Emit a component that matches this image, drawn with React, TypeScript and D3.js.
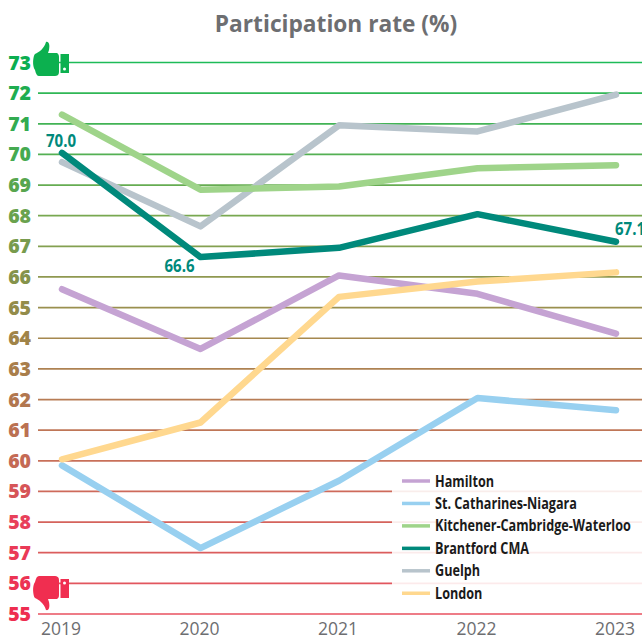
import React from "react";
import * as d3 from "d3";

const years = [2019, 2020, 2021, 2022, 2023];
const hamilton = [65.6, 63.65, 66.05, 65.45, 64.15];
const stCatharines = [59.85, 57.15, 59.35, 62.05, 61.65];
const kitchener = [71.3, 68.85, 68.95, 69.55, 69.65];
const brantford = [70.05, 66.65, 66.95, 68.05, 67.15];
const guelph = [69.75, 67.65, 70.95, 70.75, 71.95];
const london = [60.05, 61.25, 65.35, 65.85, 66.15];
const yTicks = d3.range(55, 74);
const seriesNames = ["Hamilton", "St. Catharines-Niagara", "Kitchener-Cambridge-Waterloo", "Brantford CMA", "Guelph", "London"];
const seriesValues = [hamilton, stCatharines, kitchener, brantford, guelph, london];
const seriesColors = ["#c5a3d3", "#98d0f0", "#9fd48a", "#00897b", "#b8c4cc", "#ffd88f"];
const drawOrder = [0, 1, 4, 2, 5, 3];
const callouts = [
  { year: 2019, label: "70.0", dx: -1, dy: -6 },
  { year: 2020, label: "66.6", dx: -21, dy: 15 },
  { year: 2023, label: "67.1", dx: 14, dy: -7 },
];
const calloutValues = [70.05, 66.65, 67.15];

const x = d3.scaleLinear().domain([2019, 2023]).range([62, 616]);
const y = d3.scaleLinear().domain([55, 73]).range([614, 62.5]);
const gridColor = d3.scaleLinear<string>()
  .domain([55, 60, 64, 68, 73])
  .range(["#e8505f", "#c8705a", "#a5884f", "#78a850", "#1ebb58"]);
const tickColor = d3.scaleLinear<string>()
  .domain([55, 58, 60, 64, 68, 70, 73])
  .range(["#ee2d50", "#e8405a", "#c46a55", "#a08448", "#6aa24e", "#45aa50", "#0bae50"]);
const line = d3.line<number>().x((_, i) => x(years[i])).y((v) => y(v));

const sans = "'Open Sans', sans-serif";
const thumb = "M0,28 C-3,24 -2,14 0,12 C4,10 9,7 11,0 C14,-1 15,3 14,8 L13,11 L22,11 C24,12 24,14 24,16 L24,30 C24,33 22,34 20,34 L4,34 C2,34 1,32 0,28 Z";

export default function App() {
  return (
    <svg width={642} height={639} style={{ position: "absolute", left: 0, top: 0, background: "#fff" }}>
      <text x={336} y={32} textAnchor="middle" fontFamily={sans} fontWeight={700} fontSize={22.7} fill="#6d6e71">
        Participation rate (%)
      </text>
      {yTicks.map((t) => (
        <g key={t}>
          <line x1={38} x2={642} y1={y(t)} y2={y(t)} stroke={gridColor(t)} strokeWidth={1.7} />
          <text x={31} y={y(t) + 7} textAnchor="end" fontFamily={sans} fontWeight={800} fontSize={19.5} fill={tickColor(t)}>
            {t}
          </text>
        </g>
      ))}
      {years.map((yr) => (
        <text key={yr} x={x(yr) - 1} y={635} textAnchor="middle" fontFamily={sans} fontSize={17.5} fill="#6d6e71">
          {yr}
        </text>
      ))}
      {drawOrder.map((i) => (
        <path key={seriesNames[i]} d={line(seriesValues[i]) ?? ""} fill="none" stroke={seriesColors[i]} strokeWidth={6.5} strokeLinecap="round" strokeLinejoin="round" />
      ))}
      {callouts.map((c, i) => (
        <text key={c.year} transform={`translate(${x(c.year) + c.dx},${y(calloutValues[i]) + c.dy}) scale(0.86,1)`} textAnchor="middle" fontFamily={sans} fontWeight={700} fontSize={17.5} fill="#00897b">
          {c.label}
        </text>
      ))}
      <rect x={392} y={468} width={250} height={138} fill="#fff" fillOpacity={0.88} />
      {seriesNames.map((name, i) => {
        const ly = 481 + i * 22.45;
        return (
          <g key={name}>
            <line x1={402} x2={430} y1={ly} y2={ly} stroke={seriesColors[i]} strokeWidth={3.5} />
            <text transform={`translate(435,${ly + 5.5}) scale(0.79,1)`} fontFamily={sans} fontWeight={700} fontSize={16} fill="#1a1a1a">
              {name}
            </text>
          </g>
        );
      })}
      <g fill="#0cb04f" transform="translate(35,42)">
        <path d={thumb} />
        <rect x={25.5} y={12} width={8.5} height={19} />
        <circle cx={29.5} cy={27} r={1.5} fill="#fff" />
      </g>
      <g fill="#f02e50" transform="translate(35,610) scale(1,-1)">
        <path d={thumb} />
        <rect x={25.5} y={12} width={8.5} height={19} />
        <circle cx={29.5} cy={27} r={1.5} fill="#fff" />
      </g>
    </svg>
  );
}
